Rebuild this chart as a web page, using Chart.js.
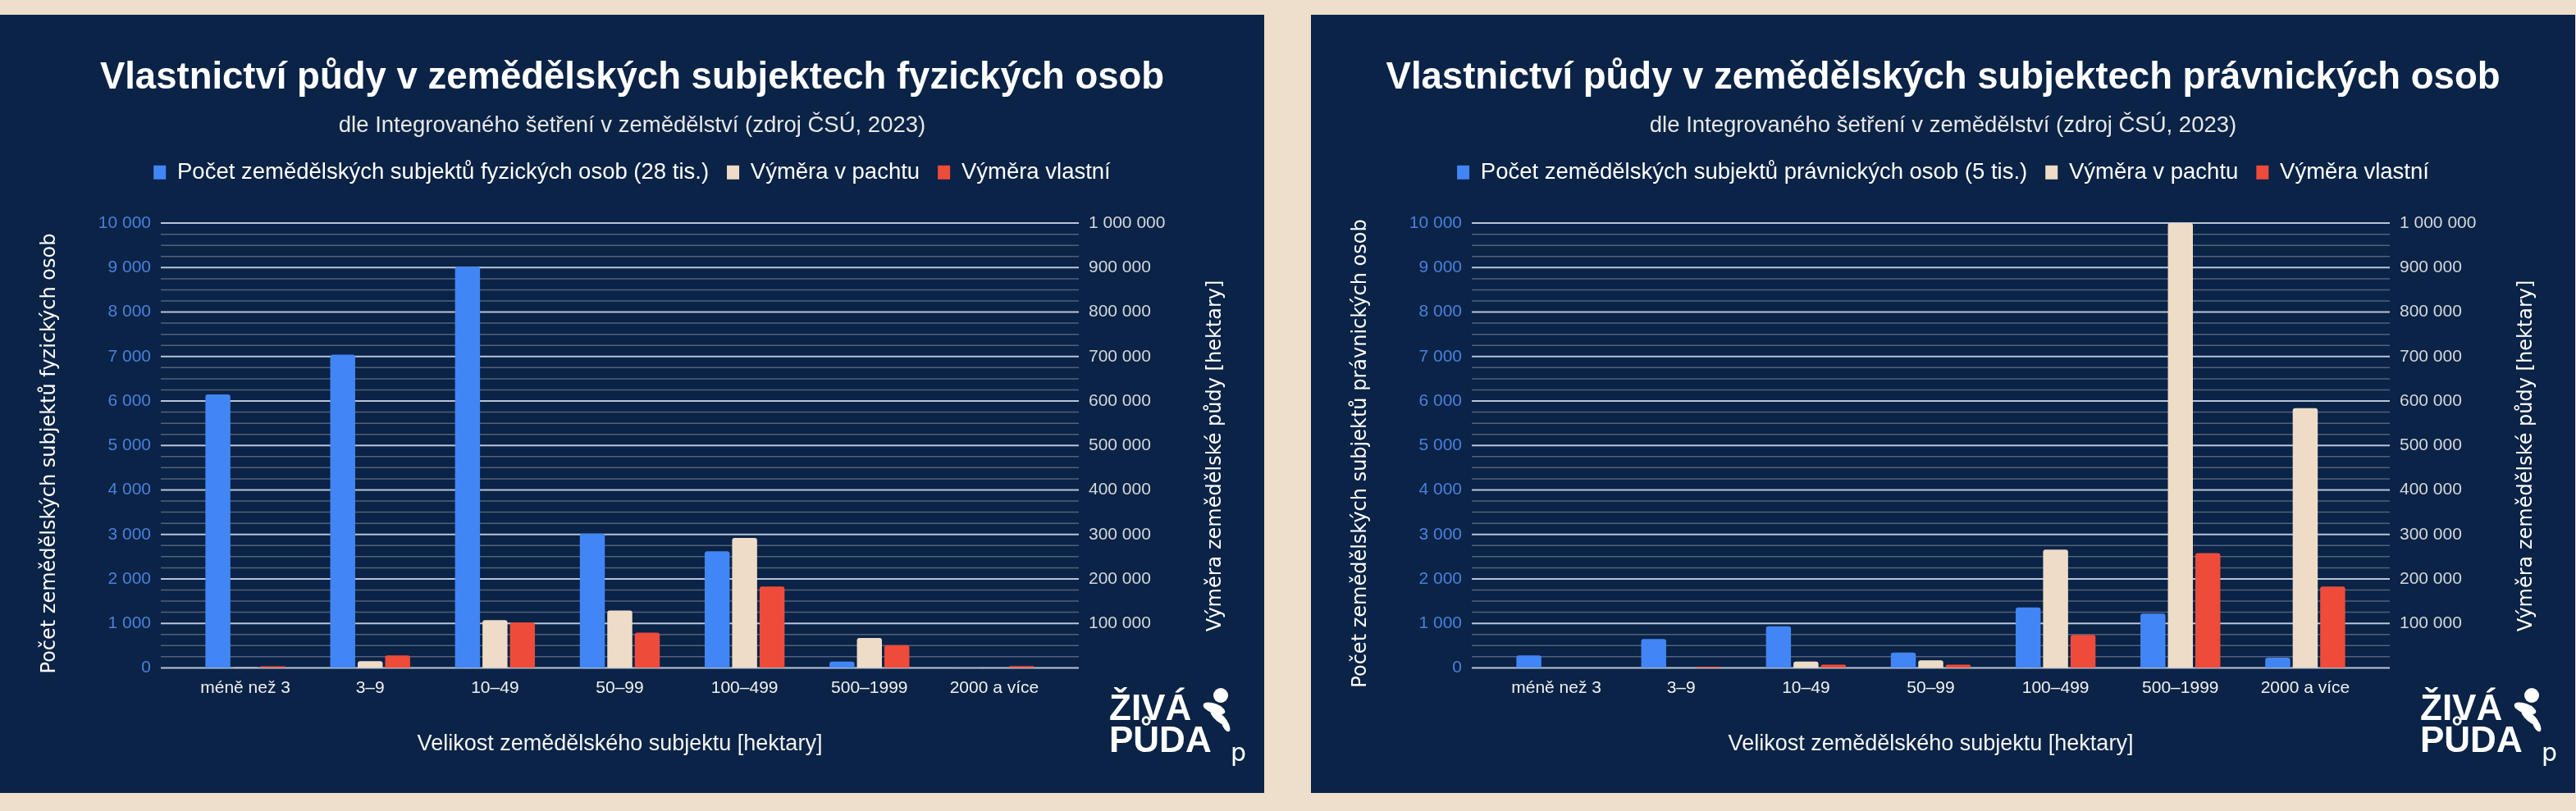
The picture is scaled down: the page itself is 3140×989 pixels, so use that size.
<!DOCTYPE html>
<html lang="cs">
<head>
<meta charset="utf-8">
<title>Vlastnictví půdy v zemědělských subjektech</title>
<script src="https://cdn.jsdelivr.net/npm/chart.js@4.4.1/dist/chart.umd.min.js"></script>
<style>
  html, body { margin: 0; padding: 0; background: #eedfcc; }
  body { width: 3140px; height: 989px; position: relative; overflow: hidden; }
  .panel { position: absolute; top: 18px; width: 1541px; height: 949px; background: #0a2346; }
  #panelFyz { left: 0; }
  #panelPrav { left: 1598px; }
</style>
</head>
<body>
<div class="panel" id="panelFyz"><canvas id="chartFyz"></canvas></div>
<div class="panel" id="panelPrav"><canvas id="chartPrav"></canvas></div>
<script>
// ---- data ----
const kategorie = ['méně než 3', '3–9', '10–49', '50–99', '100–499', '500–1999', '2000 a více'];

// fyzické osoby
const fyzPocet = [6150, 7040, 9020, 3020, 2620, 140, 5];
const fyzPacht = [1000, 15000, 107000, 129000, 292000, 67000, 0];
const fyzVlastni = [3500, 28000, 102000, 79000, 183000, 51000, 4000];

// právnické osoby
const pravPocet = [280, 650, 935, 345, 1360, 1220, 230];
const pravPacht = [0, 0, 14000, 17000, 266000, 1000000, 584000];
const pravVlastni = [0, 2800, 7000, 7000, 74000, 258000, 183000];

// osy
const pocetMax = 10000;
const pocetKrok = 1000;
const vymeraMax = 1000000;
const vymeraKrok = 100000;

// ---- vzhled ----
const barvaPocet = '#4285f4';
const barvaPacht = '#eedcc7';
const barvaVlastni = '#ee4b3b';
const ARIAL = '"Liberation Sans", Arial, sans-serif';
const DEJAVU = '"DejaVu Sans", Verdana, sans-serif';
const gridPad = 27;

Chart.defaults.font.family = ARIAL;

function mezery(v) {
    return String(v).replace(/\B(?=(\d{3})+(?!\d))/g, ' ');
}

function svislyText(ctx, text, x, y) {
    ctx.save();
    ctx.translate(x, y);
    ctx.rotate(-Math.PI / 2);
    ctx.font = '24px ' + DEJAVU;
    ctx.fillStyle = '#ffffff';
    ctx.textAlign = 'center';
    ctx.textBaseline = 'middle';
    ctx.fillText(text, 0, 0);
    ctx.restore();
}

// mřížka – hlavní čáry po 1000, vedlejší po 250, přesahuje oblast kategorií
const mrizka = {
    id: 'mrizka',
    beforeDatasetsDraw(chart) {
        const { ctx, chartArea, scales } = chart;
        const y = scales.y;
        ctx.save();
        for (let v = 0; v <= pocetMax; v += pocetKrok / 4) {
            const major = v % pocetKrok === 0;
            const py = y.getPixelForValue(v);
            ctx.strokeStyle = major ? '#b9c5d8' : '#52627a';
            ctx.lineWidth = major ? 2 : 1.5;
            ctx.beginPath();
            ctx.moveTo(chartArea.left - gridPad, py);
            ctx.lineTo(chartArea.right + gridPad, py);
            ctx.stroke();
        }
        ctx.restore();
    }
};

// mezera pod legendou
const legendaMezera = {
    id: 'legendaMezera',
    beforeInit(chart) {
        const puvodniFit = chart.legend.fit;
        chart.legend.fit = function fit() {
            puvodniFit.bind(chart.legend)();
            this.height += 38;
        };
    }
};

// popisky svislých os + logo
const popisky = {
    id: 'popisky',
    afterDraw(chart, args, opts) {
        const { ctx } = chart;
        svislyText(ctx, opts.levyTitulek, 61, 535);
        svislyText(ctx, 'Výměra zemědělské půdy [hektary]', 1482, 538);

        // logo ŽIVÁ PŮDA
        ctx.save();
        ctx.fillStyle = '#ffffff';
        ctx.textAlign = 'left';
        ctx.textBaseline = 'alphabetic';
        ctx.font = 'bold 44px ' + ARIAL;
        ctx.fillText('ŽIVÁ', 1352, 860);
        ctx.fillText('PŮDA', 1352, 899);
        ctx.font = '30px ' + DEJAVU;
        ctx.fillText('p', 1500, 910);
        ctx.beginPath();
        ctx.arc(1488, 830, 9, 0, Math.PI * 2);
        ctx.fill();
        ctx.beginPath();
        ctx.ellipse(1480, 846, 14, 6, 0.35, 0, Math.PI * 2);
        ctx.fill();
        ctx.beginPath();
        ctx.ellipse(1486, 857, 13, 5, 0.7, 0, Math.PI * 2);
        ctx.fill();
        ctx.beginPath();
        ctx.ellipse(1494, 866, 9, 4, 1.1, 0, Math.PI * 2);
        ctx.fill();
        ctx.restore();
    }
};

function vytvorGraf(canvasId, nadpis, pocetLabel, levyTitulek, pocet, pacht, vlastni) {
    const ctx = document.getElementById(canvasId).getContext('2d');
    const sloupec = {
        barPercentage: 0.91,
        categoryPercentage: 0.66,
        borderRadius: { topLeft: 3, topRight: 3 },
        borderSkipped: 'start'
    };
    return new Chart(ctx, {
        type: 'bar',
        data: {
            labels: kategorie,
            datasets: [
                { label: pocetLabel, data: pocet, yAxisID: 'y', backgroundColor: barvaPocet, ...sloupec },
                { label: 'Výměra v pachtu', data: pacht, yAxisID: 'y1', backgroundColor: barvaPacht, ...sloupec },
                { label: 'Výměra vlastní', data: vlastni, yAxisID: 'y1', backgroundColor: barvaVlastni, ...sloupec }
            ]
        },
        options: {
            responsive: true,
            maintainAspectRatio: false,
            animation: false,
            layout: { padding: { top: 0, left: 0, right: 0, bottom: 43 } },
            plugins: {
                title: {
                    display: true,
                    text: nadpis,
                    color: '#ffffff',
                    font: { size: 45.5, weight: 'bold' },
                    padding: { top: 50, bottom: 0 }
                },
                subtitle: {
                    display: true,
                    text: 'dle Integrovaného šetření v zemědělství (zdroj ČSÚ, 2023)',
                    color: '#e8e8e8',
                    font: { size: 27.5 },
                    padding: { top: 14, bottom: 5 }
                },
                legend: {
                    display: true,
                    position: 'top',
                    labels: {
                        color: '#ffffff',
                        font: { size: 27.5 },
                        boxWidth: 15,
                        boxHeight: 17,
                        padding: 22
                    }
                },
                tooltip: { enabled: false },
                popisky: { levyTitulek: levyTitulek }
            },
            scales: {
                x: {
                    offset: true,
                    grid: { display: false, drawTicks: false },
                    border: { display: false },
                    ticks: { color: '#f0f0f0', font: { size: 21 }, padding: 12 },
                    title: {
                        display: true,
                        text: 'Velikost zemědělského subjektu [hektary]',
                        color: '#f4f4f4',
                        font: { size: 27 },
                        padding: { top: 28, bottom: 0 }
                    }
                },
                y: {
                    position: 'left',
                    min: 0,
                    max: pocetMax,
                    grid: { display: false, drawTicks: false },
                    border: { display: false },
                    ticks: {
                        stepSize: pocetKrok,
                        color: '#4a80dc',
                        font: { size: 21 },
                        padding: 39,
                        callback: v => mezery(v)
                    },
                    afterFit(scale) { scale.width = 223; }
                },
                y1: {
                    position: 'right',
                    min: 0,
                    max: vymeraMax,
                    grid: { display: false, drawTicks: false },
                    border: { display: false },
                    ticks: {
                        stepSize: vymeraKrok,
                        color: '#d4d7dc',
                        font: { size: 21 },
                        padding: 39,
                        callback: v => (v === 0 ? '' : mezery(v))
                    },
                    afterFit(scale) { scale.width = 253; }
                }
            }
        },
        plugins: [mrizka, legendaMezera, popisky]
    });
}

vytvorGraf('chartFyz',
    'Vlastnictví půdy v zemědělských subjektech fyzických osob',
    'Počet zemědělských subjektů fyzických osob (28 tis.)',
    'Počet zemědělských subjektů fyzických osob',
    fyzPocet, fyzPacht, fyzVlastni);

vytvorGraf('chartPrav',
    'Vlastnictví půdy v zemědělských subjektech právnických osob',
    'Počet zemědělských subjektů právnických osob (5 tis.)',
    'Počet zemědělských subjektů právnických osob',
    pravPocet, pravPacht, pravVlastni);
</script>
</body>
</html>
